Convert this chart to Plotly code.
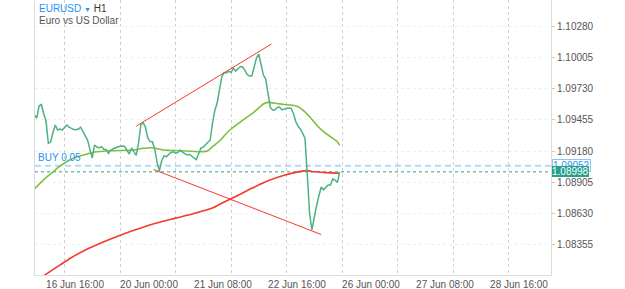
import pandas as pd
import plotly.graph_objects as go

# ---------------- data ----------------
# hourly bars (weekend removed) from 16 Jun 11:00 to 23 Jun 23:00
all_hours = pd.date_range("2023-06-16 11:00", "2023-06-23 23:00", freq="h")
bar_times = all_hours[all_hours.dayofweek < 5]

price = [
    1.09498, 1.09471, 1.09577, 1.09590, 1.09509, 1.09445, 1.09249, 1.09260, 1.09344, 1.09410,
    1.09366, 1.09375, 1.09366, 1.09392, 1.09410, 1.09392, 1.09381, 1.09370, 1.09368, 1.09375,
    1.09390, 1.09348, 1.09304, 1.09275, 1.09194, 1.09120, 1.09234, 1.09216, 1.09208, 1.09219,
    1.09196, 1.09193, 1.09161, 1.09190, 1.09201, 1.09206, 1.09216, 1.09223, 1.09226, 1.09221,
    1.09186, 1.09155, 1.09208, 1.09172, 1.09142, 1.09252, 1.09410, 1.09430, 1.09392, 1.09296,
    1.09264, 1.09262, 1.09199, 1.09085, 1.09005, 1.09093, 1.09140, 1.09130, 1.09148, 1.09168,
    1.09175, 1.09162, 1.09168, 1.09190, 1.09172, 1.09157, 1.09146, 1.09153, 1.09140, 1.09120,
    1.09106, 1.09164, 1.09208, 1.09216, 1.09238, 1.09256, 1.09278, 1.09427, 1.09537, 1.09603,
    1.09717, 1.09832, 1.09871, 1.09867, 1.09884, 1.09871, 1.09908, 1.09884, 1.09905, 1.09924,
    1.09920, 1.09893, 1.09854, 1.09840, 1.09840, 1.09928, 1.09999, 1.10034, 1.09928, 1.09849,
    1.09814, 1.09673, 1.09564, 1.09542, 1.09542, 1.09565, 1.09568, 1.09542, 1.09550, 1.09557,
    1.09557, 1.09558, 1.09511, 1.09441, 1.09398, 1.09375, 1.09336, 1.09293, 1.08970, 1.08627,
    1.08487, 1.08601, 1.08702, 1.08786, 1.08865, 1.08840, 1.08861, 1.08882, 1.08882, 1.08935,
    1.08926, 1.08904, 1.08998,
]

# moving averages sampled at bar numbers (0 = first bar)
ma_fast_bars = [0, 5, 8, 10, 13, 17, 22, 26, 33, 43, 47, 51, 56, 63, 72, 75, 77, 80, 84, 89,
                95, 99, 101, 105, 108, 111, 114, 116, 119, 122, 125, 128, 131, 132]
ma_fast = [1.08850, 1.08948, 1.08997, 1.09032, 1.09076, 1.09120, 1.09150, 1.09172, 1.09184, 1.09190,
           1.09205, 1.09210, 1.09190, 1.09184, 1.09175, 1.09184, 1.09219, 1.09269, 1.09357, 1.09436,
           1.09524, 1.09594, 1.09609, 1.09599, 1.09590, 1.09586, 1.09571, 1.09542, 1.09483, 1.09410,
           1.09351, 1.09307, 1.09263, 1.09230]

ma_slow_bars = [0, 4, 9, 15, 22, 29, 36, 43, 52, 61, 69, 77, 81, 87, 94, 101, 108, 114, 118, 120, 126, 132]
ma_slow = [1.08031, 1.08084, 1.08151, 1.08232, 1.08311, 1.08375, 1.08432, 1.08484, 1.08544, 1.08591,
           1.08632, 1.08680, 1.08722, 1.08781, 1.08853, 1.08919, 1.08968, 1.08998, 1.09009, 1.09001,
           1.08991, 1.08986]

trend_upper_x = ["2023-06-20 07:00", "2023-06-22 17:30"]
trend_upper_y = [1.09400, 1.10122]
trend_lower_x = ["2023-06-20 14:30", "2023-06-23 15:00"]
trend_lower_y = [1.09019, 1.08447]

buy_price = 1.09052
buy_text = "BUY 0.05"
last_price = 1.08998

tick_times = ["2023-06-16 16:00", "2023-06-20 00:00", "2023-06-21 08:00", "2023-06-22 16:00",
              "2023-06-26 00:00", "2023-06-27 08:00", "2023-06-28 16:00"]
tick_text = ["16 Jun 16:00", "20 Jun 00:00", "21 Jun 08:00", "22 Jun 16:00",
             "26 Jun 00:00", "27 Jun 08:00", "28 Jun 16:00"]

# ---------------- style ----------------
FONT = "Liberation Sans, Arial, sans-serif"
BLUE = "#2196f3"
PRICE_C = "#4cb282"
FAST_C = "#7dbf3f"
SLOW_C = "#f5392d"
TEAL = "#26a08a"

fig = go.Figure()

fig.add_trace(go.Scatter(x=[bar_times[b] for b in ma_slow_bars], y=ma_slow, mode="lines",
                         line=dict(color=SLOW_C, width=1.6, shape="spline", smoothing=0.6),
                         hoverinfo="skip"))
fig.add_trace(go.Scatter(x=[bar_times[b] for b in ma_fast_bars], y=ma_fast, mode="lines",
                         line=dict(color=FAST_C, width=1.6, shape="spline", smoothing=0.6),
                         hoverinfo="skip"))
fig.add_trace(go.Scatter(x=bar_times, y=price, mode="lines",
                         line=dict(color=PRICE_C, width=1.5), hoverinfo="skip"))
fig.add_trace(go.Scatter(x=trend_upper_x, y=trend_upper_y, mode="lines",
                         line=dict(color=SLOW_C, width=1), hoverinfo="skip"))
fig.add_trace(go.Scatter(x=trend_lower_x, y=trend_lower_y, mode="lines",
                         line=dict(color=SLOW_C, width=1), hoverinfo="skip"))

# horizontal price lines
fig.add_shape(type="line", xref="paper", x0=0, x1=1, yref="y", y0=buy_price, y1=buy_price,
              line=dict(color="#b3d7fb", width=2, dash="6px,4px"), layer="below")
fig.add_shape(type="line", xref="paper", x0=0, x1=1, yref="y", y0=last_price, y1=last_price,
              line=dict(color=TEAL, width=1, dash="dot"), layer="below")

annotations = [
    dict(xref="paper", yref="paper", x=0, y=1, xshift=2, yshift=-1, xanchor="left", yanchor="top",
         showarrow=False, align="left",
         text=f"<span style='color:{BLUE}'>EURUSD</span> <span style='color:{BLUE};font-size:7px'>▼</span> H1",
         font=dict(family=FONT, size=10, color="#333")),
    dict(xref="paper", yref="paper", x=0, y=1, xshift=2, yshift=-13, xanchor="left", yanchor="top",
         showarrow=False, align="left", text="Euro vs US Dollar",
         font=dict(family=FONT, size=10, color="#555")),
    dict(xref="paper", yref="y", x=0, y=buy_price, xshift=1, yshift=1, xanchor="left", yanchor="bottom",
         showarrow=False, text=buy_text, font=dict(family=FONT, size=10, color=BLUE)),
    dict(xref="paper", yref="y", x=1, y=buy_price, xshift=1, xanchor="left", yanchor="middle",
         showarrow=False, text=f"{buy_price:.5f}", font=dict(family=FONT, size=10, color=BLUE),
         bgcolor="white", bordercolor="#90c4f5", borderwidth=1, borderpad=0),
    dict(xref="paper", yref="y", x=1, y=last_price, xshift=1, xanchor="left", yanchor="middle",
         showarrow=False, text=f"{last_price:.5f}", font=dict(family=FONT, size=10, color="white"),
         bgcolor=TEAL, borderwidth=0, borderpad=0),
]

fig.update_layout(
    width=625, height=289,
    margin=dict(l=35, r=74, t=0, b=14),
    paper_bgcolor="white", plot_bgcolor="white",
    showlegend=False, hovermode=False,
    font=dict(family=FONT, size=10, color="#555"),
    annotations=annotations,
)

fig.update_xaxes(
    type="date",
    range=["2023-06-16 11:14", "2023-06-29 18:23"],
    rangebreaks=[dict(bounds=["sat", "mon"])],
    tickmode="array", tickvals=tick_times, ticktext=tick_text,
    ticklabelshift=29, ticks="", showgrid=False,
    tickfont=dict(family=FONT, size=10, color="#555"),
    showline=True, linecolor="#dcdcdc", linewidth=1,
    minor=dict(dtick=86400000, tick0="2023-06-16", showgrid=True, gridcolor="#cfcfcf",
               griddash="3px,3px", gridwidth=1),
    zeroline=False,
)

fig.update_yaxes(
    side="right", range=[1.08091, 1.10509],
    tick0=1.08355, dtick=0.00275, tickformat=".5f",
    ticks="outside", ticklen=3, tickcolor="#cccccc",
    tickfont=dict(family=FONT, size=10, color="#555"),
    showgrid=True, gridcolor="#f0f0f0", griddash="3px,3px",
    showline=True, linecolor="#dcdcdc", linewidth=1, mirror=True,
    zeroline=False,
)

fig.write_html("out.html")
